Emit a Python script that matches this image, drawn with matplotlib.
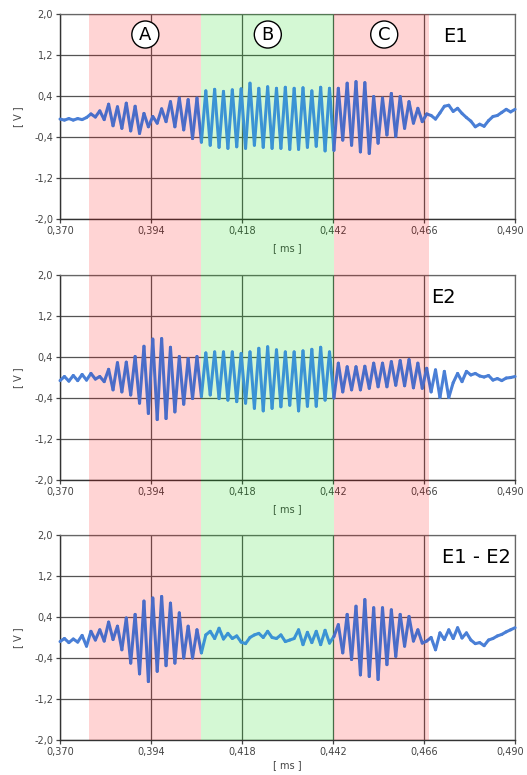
import numpy as np
import matplotlib
matplotlib.use('Agg')
import matplotlib.pyplot as plt
from matplotlib.patches import Rectangle
from matplotlib.collections import LineCollection
from matplotlib.transforms import blended_transform_factory, ScaledTranslation

# sampled waveforms (V), evenly spaced over the time window
t_start, t_end = 0.370, 0.490

e1 = [-0.05, -0.07, -0.04, -0.07, -0.04, -0.06, -0.02,
      0.05, -0.01, 0.11, -0.06, 0.24, -0.18, 0.19, -0.23, 0.26, -0.28, 0.20, -0.33, 0.06,
      -0.20, 0.00, -0.13, 0.15, -0.10, 0.29, -0.20, 0.36, -0.26, 0.33, -0.43, 0.36, -0.50,
      0.50, -0.56, 0.53, -0.60, 0.49, -0.62, 0.52, -0.59, 0.54, -0.62, 0.65, -0.56, 0.55,
      -0.60, 0.58, -0.62, 0.55, -0.62, 0.57, -0.64, 0.55, -0.64, 0.56, -0.60, 0.50, -0.58,
      0.57, -0.67, 0.55, -0.66,
      0.55, -0.46, 0.65, -0.56, 0.68, -0.69, 0.66, -0.72, 0.39, -0.52, 0.36, -0.36, 0.45,
      -0.39, 0.39, -0.23, 0.29, -0.13, 0.16, -0.10, 0.05,
      0.02, -0.05, 0.07, 0.20, 0.22, 0.10, 0.16, 0.06, -0.02, -0.09, -0.20, -0.15, -0.19,
      -0.08, 0.00, 0.02, 0.08, 0.14, 0.09, 0.14]

e2 = [-0.06, 0.02, -0.07, 0.04, -0.06, 0.06, -0.05, 0.08, -0.03, 0.02, -0.08,
      0.16, -0.24, 0.29, -0.28, 0.30, -0.34, 0.41, -0.50, 0.61, -0.70, 0.75, -0.82, 0.76,
      -0.80, 0.59, -0.67, 0.41, -0.52, 0.37, -0.41, 0.41, -0.37,
      0.48, -0.34, 0.50, -0.41, 0.50, -0.44, 0.50, -0.47, 0.47, -0.50, 0.50, -0.60, 0.57,
      -0.65, 0.60, -0.60, 0.54, -0.57, 0.50, -0.54, 0.50, -0.65, 0.52, -0.56, 0.55, -0.56,
      0.59, -0.44, 0.50, -0.40,
      0.28, -0.28, 0.21, -0.24, 0.21, -0.24, 0.22, -0.21, 0.28, -0.18, 0.28, -0.18, 0.31,
      -0.15, 0.33, -0.16, 0.35, -0.20, 0.28, -0.21, 0.18, -0.28, 0.15, -0.39, 0.12, -0.39,
      -0.10, 0.08, -0.08, 0.12, 0.05, 0.08, 0.03, 0.01, 0.04, -0.05, -0.02, -0.06, -0.01,
      0.00, 0.02]

e_diff = [-0.08, -0.02, -0.10, -0.03, -0.09, 0.04, -0.17, 0.12, -0.05, 0.15, -0.07,
          0.30, -0.04, 0.22, -0.24, 0.38, -0.50, 0.45, -0.71, 0.71, -0.86, 0.77, -0.66,
          0.80, -0.55, 0.67, -0.50, 0.48, -0.40, 0.22, -0.40, 0.15, -0.30,
          0.05, 0.12, -0.02, 0.18, -0.03, 0.08, -0.02, 0.03, -0.09, -0.12, 0.00, 0.05,
          0.08, 0.00, 0.12, 0.00, -0.02, 0.05, -0.08, -0.05, -0.02, 0.15, -0.14, 0.10,
          -0.10, 0.12, -0.14, 0.14, -0.11, 0.02,
          0.25, -0.30, 0.45, -0.43, 0.61, -0.73, 0.74, -0.76, 0.58, -0.82, 0.58, -0.53,
          0.54, -0.37, 0.45, -0.17, 0.41, -0.07, 0.15, -0.11,
          -0.07, 0.00, -0.24, 0.09, -0.04, 0.15, -0.02, 0.19, -0.01, 0.09, -0.05, -0.12,
          -0.10, -0.16, -0.05, -0.02, 0.03, 0.06, 0.11, 0.15, 0.19]

signals = [e1, e2, e_diff]
names = ['E1', 'E2', 'E1 - E2']
name_x = [0.4742, 0.4712, 0.4797]

x_ticks = [0.370, 0.394, 0.418, 0.442, 0.466, 0.490]
x_labels = ['0,370', '0,394', '0,418', '0,442', '0,466', '0,490']
y_ticks = [-2.0, -1.2, -0.4, 0.4, 1.2, 2.0]
y_labels = ['-2,0', '-1,2', '-0,4', '0,4', '1,2', '2,0']

zone_edges = [0.3776, 0.4072, 0.4422, 0.4673]
zone_colors = ['red', (0.0, 0.85, 0.0), 'red']
zone_tags = ['A', 'B', 'C']
tag_x = [0.3925, 0.4248, 0.4555]
# trace colour outside / in red zone / in green zone
line_colors = ['#4a7fd6', '#4a6cc8', '#3b93d4']

fig = plt.figure(figsize=(5.27, 7.75), dpi=100)
bottoms = [0.7174, 0.3806, 0.0452]
axes = []
for k in range(3):
    ax = fig.add_axes([0.1139, bottoms[k], 0.8634, 0.2645])
    ax.set_xlim(t_start, t_end)
    ax.set_ylim(-2.0, 2.0)
    ax.set_xticks(x_ticks)
    ax.set_xticklabels(x_labels)
    ax.set_yticks(y_ticks)
    ax.set_yticklabels(y_labels)
    ax.grid(True, color='#555555', lw=0.9)
    ax.tick_params(labelsize=7, colors='#444444', length=3, width=0.9, pad=2)
    for s in ['top', 'right']:
        ax.spines[s].set_color('#666666')
        ax.spines[s].set_linewidth(0.9)
    for s in ['left', 'bottom']:
        ax.spines[s].set_color('#333333')
        ax.spines[s].set_linewidth(1.0)
    ax.set_xlabel('[ ms ]', fontsize=7, color='#444444', labelpad=5 if k < 2 else 2)
    ax.set_ylabel('[ V ]', fontsize=7, color='#444444', labelpad=8)
    last = ax.get_xticklabels()[-1]
    last.set_horizontalalignment('right')
    last.set_transform(last.get_transform() + ScaledTranslation(0.09, 0, fig.dpi_scale_trans))
    ax.text(name_x[k], 1.57, names[k], fontsize=14, ha='center', va='center', zorder=5)
    axes.append(ax)

# shaded zones run through all three panels
top = axes[0].get_position().y1
bot = axes[2].get_position().y0
tr = blended_transform_factory(axes[0].transData, fig.transFigure)
for i in range(3):
    fig.add_artist(Rectangle((zone_edges[i], bot), zone_edges[i + 1] - zone_edges[i], top - bot,
                             transform=tr, facecolor=zone_colors[i], alpha=0.17,
                             lw=0, zorder=2))

# traces on top of the zones, tinted per zone
zone_of = [0, 1, 2, 1, 0]
for k in range(3):
    y = np.array(signals[k])
    t = np.linspace(t_start, t_end, len(y))
    pts = np.column_stack([t, y])
    segs = np.stack([pts[:-1], pts[1:]], axis=1)
    mid = (t[:-1] + t[1:]) / 2
    cols = [line_colors[zone_of[z]] for z in np.digitize(mid, zone_edges)]
    lc = LineCollection(segs, colors=cols, linewidths=2.2, transform=axes[k].transData,
                        zorder=3, capstyle='round', joinstyle='round')
    fig.add_artist(lc)

for i in range(3):
    fig.text(tag_x[i], 1.6, zone_tags[i], transform=axes[0].transData, fontsize=13,
             ha='center', va='center', zorder=6,
             bbox=dict(boxstyle='circle,pad=0.25', fc='white', ec='black', lw=1.0))

plt.savefig('out.png', dpi=100)
plt.close()
